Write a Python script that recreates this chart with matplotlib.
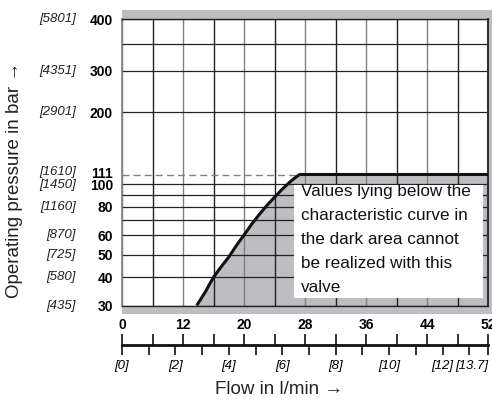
import numpy as np
import matplotlib
matplotlib.use("Agg")
import matplotlib.pyplot as plt
from matplotlib.patches import Rectangle
import matplotlib.transforms as mtransforms

plt.rcParams["font.family"] = ["Liberation Sans", "DejaVu Sans"]

# ===== data =====
# pressure axis (bar) with psi in brackets
p_ticks = [30, 40, 50, 60, 80, 100, 111, 200, 300, 400]
p_psi = ["[435]", "[580]", "[725]", "[870]", "[1160]", "[1450]", "[1610]", "[2901]", "[4351]", "[5801]"]
p_grid = [30, 40, 50, 60, 70, 80, 90, 100, 200, 300, 350, 400]

# flow axis (l/min) and gpm
q_labels = [0, 12, 20, 28, 36, 44, 52]
q_grid = [0, 6, 12, 16, 20, 24, 28, 32, 36, 40, 44, 48, 52]
gpm_labels = [0, 2, 4, 6, 8, 10, 12]
gpm_max = 13.7

# characteristic curve: flow (l/min) vs. max pressure (bar)
curve_q = [13.8, 14.4, 15.0, 15.5, 16.0, 17.0, 18.0, 19.0, 20.0, 21.0, 22.0,
           23.0, 24.0, 25.0, 26.0, 26.7, 27.3, 52.0]
curve_p = [30, 32.5, 35, 37.5, 40, 44.5, 49, 54.5, 60, 67, 74,
           81, 88, 95, 102, 107, 111, 111]
p_limit = 111

note_lines = ["Values lying below the", "characteristic curve in",
              "the dark area cannot", "be realized with this", "valve"]

# ===== scales (chart uses a non-uniform grid) =====
p_knots = np.array([30, 40, 50, 60, 70, 80, 90, 100, 111, 200, 300, 350, 400], float)
p_pos = np.array([0, 28.2, 50.5, 70.5, 85.5, 98.8, 110.5, 121.5, 131.0, 193.2, 234.8, 261.2, 286.2])
q_knots = [0, 12, 52]
q_pos = [0, 2, 12]


def pchip_slopes(x, y):
    h = np.diff(x)
    d = np.diff(y) / h
    m = np.empty_like(y)
    m[0], m[-1] = d[0], d[-1]
    for k in range(1, len(x) - 1):
        if d[k - 1] * d[k] <= 0:
            m[k] = 0.0
        else:
            w1 = 2 * h[k] + h[k - 1]
            w2 = h[k] + 2 * h[k - 1]
            m[k] = (w1 + w2) / (w1 / d[k - 1] + w2 / d[k])
    return m


p_slopes = pchip_slopes(p_knots, p_pos)


def p_smooth(v):
    v = np.clip(np.asarray(v, float), p_knots[0], p_knots[-1])
    k = np.clip(np.searchsorted(p_knots, v) - 1, 0, len(p_knots) - 2)
    h = p_knots[k + 1] - p_knots[k]
    t = (v - p_knots[k]) / h
    h00 = 2 * t**3 - 3 * t**2 + 1
    h10 = t**3 - 2 * t**2 + t
    h01 = -2 * t**3 + 3 * t**2
    h11 = t**3 - t**2
    return (h00 * p_pos[k] + h10 * h * p_slopes[k] +
            h01 * p_pos[k + 1] + h11 * h * p_slopes[k + 1])


# lookup table for the inverse transform
p_table = np.linspace(p_knots[0], p_knots[-1], 4000)
pos_table = p_smooth(p_table)


def p_fwd(v):
    return np.interp(v, p_table, pos_table)


def p_inv(v):
    return np.interp(v, pos_table, p_table)


def q_fwd(v):
    return np.interp(v, q_knots, q_pos)


def q_inv(v):
    return np.interp(v, q_pos, q_knots)


W, H = 492, 401
fig = plt.figure(figsize=(W / 100, H / 100), dpi=100)
fig.patch.set_facecolor("white")

L, R, T, B = 122, 488, 19.3, 305.5
band = "#bebec2"

# gray frame behind the grid
fig.patches.append(Rectangle((L / W, (H - 314.3) / H), (W - L) / W, (314.3 - 9.7) / H,
                             transform=fig.transFigure, facecolor=band, edgecolor="none", zorder=-5))

ax = fig.add_axes([L / W, (H - B) / H, (R - L) / W, (B - T) / H])
ax.set_zorder(1)
ax.set_facecolor("white")
ax.set_xscale("function", functions=(q_fwd, q_inv))
ax.set_yscale("function", functions=(p_fwd, p_inv))
ax.set_xlim(0, 52)
ax.set_ylim(30, 400)

# shaded area under the curve
ax.fill_between(curve_q, 30, curve_p, color=band, lw=0, zorder=1)

# grid
for i, q in enumerate(q_grid):
    ax.axvline(q, color="#222222" if i % 2 else "#808080", lw=1.0, zorder=2)
for p in p_grid:
    ax.axhline(p, color="#222222", lw=0.9, zorder=2)

ax.plot([0, curve_q[-2]], [p_limit, p_limit], color="#808080", lw=1.0,
        dashes=(5, 3), zorder=2)
ax.plot(curve_q, curve_p, color="#111111", lw=2.2, zorder=4, solid_capstyle="butt",
        solid_joinstyle="round")

for s in ["top", "bottom"]:
    ax.spines[s].set_color("#222222")
    ax.spines[s].set_linewidth(1.0)
ax.spines["left"].set_color("#808080")
ax.spines["left"].set_linewidth(1.2)
ax.spines["right"].set_color("#333333")
ax.spines["right"].set_linewidth(1.5)

ax.set_xticks([])
ax.set_xticks([], minor=True)
ax.set_yticks(p_ticks)
ax.set_yticks([], minor=True)
ax.set_yticklabels([str(v) for v in p_ticks], fontsize=10, fontweight="bold")
ax.tick_params(axis="y", length=0, pad=6.5)

# 111 and 100 sit close together, nudge them apart
nudge = {111: 2.5, 100: -0.5}
for p, lab in zip(p_ticks, ax.get_yticklabels()):
    if p in nudge:
        lab.set_transform(lab.get_transform() +
                          mtransforms.ScaledTranslation(0, nudge[p] / 100, fig.dpi_scale_trans))

# psi labels
trans = mtransforms.blended_transform_factory(ax.transAxes, ax.transData)
for p, s in zip(p_ticks, p_psi):
    t = ax.text(-0.126, p, s, transform=trans, ha="right", va="center", fontsize=9.5,
                style="italic", family=["Liberation Sans Narrow", "Liberation Sans"],
                color="#222222", clip_on=False)
    if p in nudge:
        t.set_transform(trans + mtransforms.ScaledTranslation(0, nudge[p] / 100, fig.dpi_scale_trans))

# note box
ax.add_patch(Rectangle((0.470, 0.025), 0.517, 0.396, transform=ax.transAxes,
                       facecolor="white", edgecolor="none", zorder=5))
for i, line in enumerate(note_lines):
    y = (B - (191.7 + 24 * i)) / (B - T)
    ax.text((300.7 - L) / (R - L), y, line, transform=ax.transAxes, ha="left",
            va="center", fontsize=12.3, color="#111111", zorder=6)

# flow scale below the grid: l/min on top, gpm underneath
ay = (H - 345) / H
axf = fig.add_axes([L / W, ay, (R - L) / W, 1e-4])
axf.set_xscale("function", functions=(q_fwd, q_inv))
axf.set_xlim(0, 52)
axf.patch.set_visible(False)
for s in ["top", "left", "right"]:
    axf.spines[s].set_visible(False)
axf.spines["bottom"].set_linewidth(2.0)
axf.spines["bottom"].set_color("#111111")
axf.set_yticks([])
axf.set_xticks(q_labels)
axf.set_xticklabels([str(v) for v in q_labels], fontsize=10, fontweight="bold")
axf.set_xticks([q for q in q_grid if q not in q_labels], minor=True)
axf.tick_params(axis="x", which="both", bottom=False, top=True, labelbottom=False,
                labeltop=True, direction="out", length=8, width=1.2, color="#111111", pad=1)

axg = fig.add_axes([L / W, ay, (R - L) / W, 1e-4])
axg.set_xlim(0, gpm_max)
axg.patch.set_visible(False)
for s in axg.spines.values():
    s.set_visible(False)
axg.set_yticks([])
axg.set_xticks(gpm_labels + [gpm_max])
axg.set_xticklabels(["[%d]" % v for v in gpm_labels] + ["[%.1f]" % gpm_max],
                    fontsize=9.5, style="italic",
                    family=["Liberation Sans Narrow", "Liberation Sans"])
axg.get_xticklabels()[-1].set_ha("right")
axg.set_xticks([v for v in range(0, 14) if v not in gpm_labels], minor=True)
axg.tick_params(axis="x", which="both", bottom=True, top=False, direction="out",
                length=7.5, width=1.2, color="#111111", pad=3)

fig.text(279 / W, (H - 390) / H, "Flow in l/min \u2192", ha="center", va="center",
         fontsize=13.5, color="#222222")
fig.text(15 / W, (H - 180) / H, "Operating pressure in bar \u2192", ha="center",
         va="center", rotation=90, fontsize=13.5, color="#222222")

fig.savefig("out.png", dpi=100)
